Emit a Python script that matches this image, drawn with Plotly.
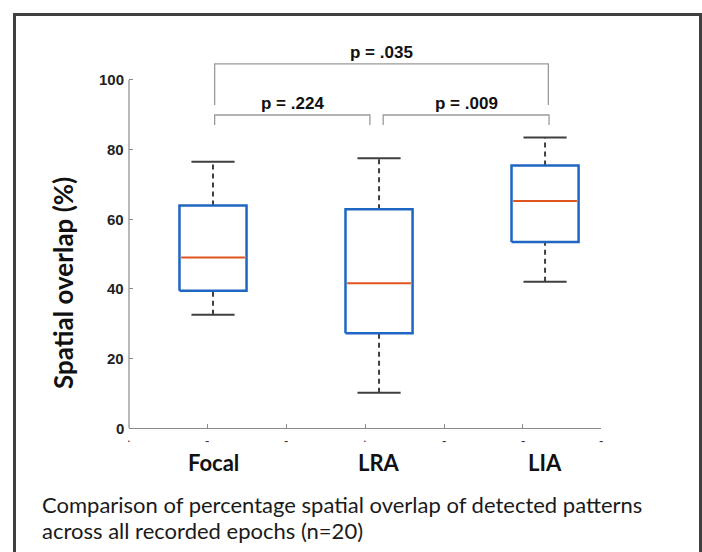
import plotly.graph_objects as go

# ---- data ----
categories = ["Focal", "LRA", "LIA"]
lower_whisker = [32.5, 10.1, 42.0]
q1 = [39.4, 27.2, 53.4]
median = [49.0, 41.6, 65.2]
q3 = [63.9, 62.8, 75.4]
upper_whisker = [76.5, 77.5, 83.4]

y_ticks = [0, 20, 40, 60, 80, 100]
y_tick_text = ["0", "20", "40", "60", "80", "100"]
x_tick_vals = [0.494, 0.964, 1.440, 1.916, 2.392, 2.867, 3.337]
x_tick_text = [".", "-", "-", ".", "-", "-", "-"]

# significance brackets: (from category index, to category index, label, top y, leg bottom y)
brackets = [
    (0, 1, "p = .224", 89.9, 87.0),
    (1, 2, "p = .009", 89.9, 87.0),
    (0, 2, "p = .035", 104.6, 92.8),
]
caption_lines = [
    "Comparison of percentage spatial overlap of detected patterns",
    "across all recorded epochs (n=20)",
]

# ---- layout constants ----
W, H = 702, 552
L, R, T, B = 129, 101, 45, 124
PW, PH = W - L - R, H - T - B
BOX_HALF = 0.202
CAP_HALF = 0.13
BLUE = "#1f66c2"
ORANGE = "#e0541f"
DARK = "#3f3f3f"
AXIS = "#8a8a8a"

xs = [i + 1 for i in range(len(categories))]

fig = go.Figure()

# whiskers (dashed)
wx, wy = [], []
for x, lo, a, b, hi in zip(xs, lower_whisker, q1, q3, upper_whisker):
    wx += [x, x, None, x, x, None]
    wy += [b, hi, None, lo, a, None]
fig.add_trace(go.Scatter(x=wx, y=wy, mode="lines", hoverinfo="skip",
                         line=dict(color=DARK, width=2, dash="5px,4px")))

# caps
cx, cy = [], []
for x, lo, hi in zip(xs, lower_whisker, upper_whisker):
    cx += [x - CAP_HALF, x + CAP_HALF, None, x - CAP_HALF, x + CAP_HALF, None]
    cy += [hi, hi, None, lo, lo, None]
fig.add_trace(go.Scatter(x=cx, y=cy, mode="lines", hoverinfo="skip",
                         line=dict(color=DARK, width=2)))

# boxes
bx, by = [], []
for x, a, b in zip(xs, q1, q3):
    bx += [x - BOX_HALF, x + BOX_HALF, x + BOX_HALF, x - BOX_HALF, x - BOX_HALF, None]
    by += [a, a, b, b, a, None]
fig.add_trace(go.Scatter(x=bx, y=by, mode="lines", hoverinfo="skip",
                         line=dict(color=BLUE, width=2.5)))

# medians
mx, my = [], []
for x, m in zip(xs, median):
    mx += [x - BOX_HALF + 0.01, x + BOX_HALF - 0.01, None]
    my += [m, m, None]
fig.add_trace(go.Scatter(x=mx, y=my, mode="lines", hoverinfo="skip",
                         line=dict(color=ORANGE, width=2)))

# brackets
annotations = []
for i0, i1, label, top, bot in brackets:
    x0 = xs[i0] + 0.01
    x1 = xs[i1] + (0.02 if i1 - i0 > 1 else -0.055)
    if i0 == 1:
        x0 = xs[i0] + 0.025
        x1 = xs[i1] + 0.024
    fig.add_trace(go.Scatter(x=[x0, x0, x1, x1], y=[bot, top, top, bot],
                             mode="lines", hoverinfo="skip",
                             line=dict(color="#9a9a9a", width=1.3)))
    annotations.append(dict(x=(x0 + x1) / 2, y=top + 3.3, xref="x", yref="y",
                            text=label, showarrow=False, yanchor="middle",
                            font=dict(family="Liberation Sans", size=17,
                                      color="#111", weight="bold")))

# y tick labels
for v, t in zip(y_ticks, y_tick_text):
    annotations.append(dict(x=0, y=v, xref="paper", yref="y", text=t,
                            showarrow=False, xanchor="right", yanchor="middle",
                            xshift=-4, borderpad=0,
                            font=dict(family="Liberation Sans", size=15,
                                      color="#222", weight="bold")))

# x tick marks below the axis
for v, t in zip(x_tick_vals, x_tick_text):
    annotations.append(dict(x=v, y=0, xref="x", yref="paper", text=t,
                            showarrow=False, xanchor="center", yanchor="middle",
                            yshift=-12 if t == "-" else -9,
                            font=dict(family="Liberation Sans", size=13,
                                      color="#333")))

# category labels
for x, c in zip(xs, categories):
    annotations.append(dict(x=x, y=(T + PH - 463) / PH, xref="x", yref="paper",
                            text=c, showarrow=False, yanchor="middle",
                            font=dict(family="Lato", size=22, color="#111",
                                      weight="bold")))

# y-axis title
annotations.append(dict(x=(63 - L) / PW, y=(T + PH - 283) / PH, xref="paper",
                        yref="paper", text="Spatial overlap (%)", textangle=-90,
                        showarrow=False, xanchor="center", yanchor="middle",
                        font=dict(family="Lato", size=26, color="#111",
                                  weight="bold")))

# caption
for k, line in enumerate(caption_lines):
    annotations.append(dict(x=(40 - L) / PW, y=(T + PH - (504 + 26 * k)) / PH,
                            xref="paper", yref="paper", text=line,
                            showarrow=False, xanchor="left", yanchor="middle",
                            font=dict(family="Lato", size=22, color="#1a1a1a")))

shapes = [
    # y axis line (0..100 only)
    dict(type="line", xref="paper", yref="y", x0=0, x1=0, y0=0, y1=100,
         line=dict(color=AXIS, width=1.2)),
    # outer frame
    dict(type="rect", xref="paper", yref="paper",
         x0=(14.5 - L) / PW, x1=(700.5 - L) / PW,
         y0=(T + PH - 565) / PH, y1=(T + PH - 14.5) / PH,
         line=dict(color="#404040", width=3), layer="above"),
]

fig.update_layout(
    width=W, height=H,
    margin=dict(l=L, r=R, t=T, b=B),
    paper_bgcolor="white", plot_bgcolor="white",
    showlegend=False,
    annotations=annotations,
    shapes=shapes,
    xaxis=dict(range=[x_tick_vals[0], x_tick_vals[-1]], tickmode="array",
               tickvals=x_tick_vals, ticks="inside", showticklabels=False,
               ticklen=4, tickcolor=AXIS, showline=True, linecolor=AXIS,
               linewidth=1.2, showgrid=False, zeroline=False),
    yaxis=dict(range=[0, 110], tickmode="array", tickvals=y_ticks,
               ticks="inside", ticklen=4, tickcolor=AXIS, showline=False,
               showticklabels=False, showgrid=False, zeroline=False),
)

fig.write_html("out.html")
